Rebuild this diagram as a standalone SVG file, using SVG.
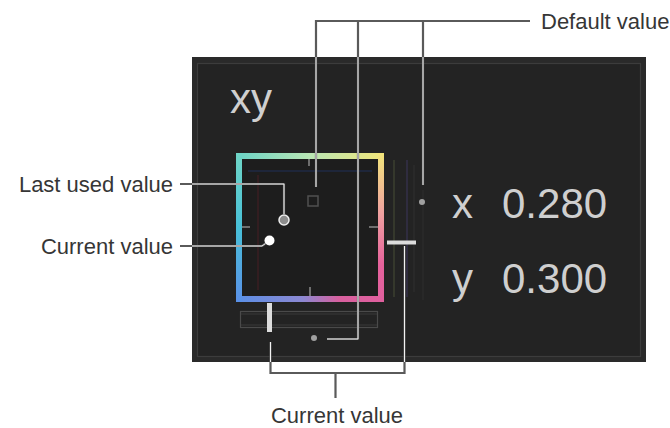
<svg xmlns="http://www.w3.org/2000/svg" width="670" height="428" viewBox="0 0 670 428">
  <style>
    .label { font-family: "Liberation Sans", Arial, sans-serif; font-size: 22px; fill: #363636; }
    .ui { font-family: "Liberation Sans", Arial, sans-serif; fill: #cfcfcf; }
    .outline { fill: none; stroke: #5a5a5a; stroke-width: 2.2; }
    .core { fill: none; stroke: #f2f2f2; stroke-width: 1; }
    .tick { stroke: #8a8a8a; stroke-width: 1.5; }
    .track { fill: none; stroke: #4a4a4a; stroke-width: 1.2; }
  </style>
  <defs>
    <linearGradient id="gTop" x1="0" y1="0" x2="1" y2="0">
      <stop offset="0" stop-color="#6ad3c6"/>
      <stop offset="0.5" stop-color="#b9e6b4"/>
      <stop offset="1" stop-color="#f2e67a"/>
    </linearGradient>
    <linearGradient id="gRight" x1="0" y1="0" x2="0" y2="1">
      <stop offset="0" stop-color="#f2e67a"/>
      <stop offset="0.4" stop-color="#f0a2a0"/>
      <stop offset="0.75" stop-color="#e6629c"/>
      <stop offset="1" stop-color="#e0609e"/>
    </linearGradient>
    <linearGradient id="gBottom" x1="0" y1="0" x2="1" y2="0">
      <stop offset="0" stop-color="#5a8fe6"/>
      <stop offset="0.45" stop-color="#8c88d2"/>
      <stop offset="0.7" stop-color="#d8609e"/>
      <stop offset="1" stop-color="#e0609e"/>
    </linearGradient>
    <linearGradient id="gLeft" x1="0" y1="0" x2="0" y2="1">
      <stop offset="0" stop-color="#70d6c6"/>
      <stop offset="0.5" stop-color="#48c0d8"/>
      <stop offset="1" stop-color="#5a90e8"/>
    </linearGradient>
    <clipPath id="panelClip">
      <rect x="192" y="57" width="454" height="305"/>
    </clipPath>
  </defs>

  <rect width="670" height="428" fill="#ffffff"/>

  <g id="panel">
    <rect x="192" y="57" width="454" height="305" fill="#2a2a2a"/>
    <rect x="197.5" y="63.5" width="443" height="293" fill="#232323" stroke="#3c3c3c" stroke-width="1.2"/>
    <text class="ui" x="230" y="113" font-size="42">xy</text>
  </g>

  <g id="pad">
    <rect x="236" y="153" width="148" height="149" fill="#1d1d1d"/>
    <line x1="248" y1="171" x2="372" y2="171" stroke="#1f2a44" stroke-width="1.5"/>
    <line x1="258" y1="175" x2="258" y2="290" stroke="#3a1e22" stroke-width="1.5"/>
    <rect x="236" y="153" width="148" height="6" fill="url(#gTop)"/>
    <rect x="378" y="153" width="6" height="149" fill="url(#gRight)"/>
    <rect x="236" y="296" width="148" height="6" fill="url(#gBottom)"/>
    <rect x="236" y="153" width="6" height="149" fill="url(#gLeft)"/>
    <line class="tick" x1="242" y1="227" x2="250" y2="227"/>
    <line class="tick" x1="369" y1="227" x2="378" y2="227"/>
    <line class="tick" x1="309" y1="159" x2="309" y2="166"/>
    <line class="tick" x1="310" y1="287" x2="310" y2="296"/>
  </g>

  <g id="default-square">
    <rect x="308" y="196" width="10" height="10" fill="none" stroke="#505050" stroke-width="1.5"/>
  </g>

  <g id="last-used-marker">
    <circle cx="284" cy="220" r="5" fill="#8c8c8c" stroke="#eeeeee" stroke-width="1.5"/>
  </g>

  <g id="current-marker">
    <circle cx="269.5" cy="240.5" r="5" fill="#ffffff"/>
  </g>

  <g id="vertical-slider">
    <line x1="394" y1="160" x2="394" y2="297" stroke="#3c4030" stroke-width="1.5"/>
    <line x1="407" y1="160" x2="407" y2="297" stroke="#34304a" stroke-width="1.5"/>
    <line x1="414" y1="165" x2="414" y2="292" stroke="#303030" stroke-width="1"/>
    <line x1="423" y1="190" x2="423" y2="300" stroke="#2e2e2e" stroke-width="1"/>
    <rect x="387" y="240.5" width="29" height="4" fill="#dcdcdc"/>
    <circle cx="422" cy="202" r="3" fill="#a0a0a0"/>
  </g>

  <g id="horizontal-slider">
    <rect class="track" x="240.5" y="311.5" width="137" height="16"/>
    <line x1="241" y1="314" x2="377" y2="314" stroke="#3a3a3a" stroke-width="1"/>
    <line x1="241" y1="325" x2="377" y2="325" stroke="#3a3a3a" stroke-width="1"/>
    <rect x="267" y="303" width="5" height="29" fill="#dcdcdc"/>
    <circle cx="314" cy="338" r="3" fill="#a0a0a0"/>
  </g>

  <g id="readout">
    <text class="ui" x="452" y="218" font-size="42">x</text>
    <text class="ui" x="502" y="218" font-size="42">0.280</text>
    <text class="ui" x="452" y="293" font-size="42">y</text>
    <text class="ui" x="502" y="293" font-size="42">0.300</text>
  </g>

  <g id="connectors">
    <g class="outline">
      <path d="M530,21 H316 V187 M358,21 V339 H327 M423,21 V185"/>
      <path d="M180,184 H284 V214"/>
      <path d="M180,246 H262 L265.5,243.5"/>
      <path d="M270.5,342 V373 H404.5 V246 M335.5,373 V398"/>
    </g>
    <g class="core" clip-path="url(#panelClip)">
      <path d="M530,21 H316 V187 M358,21 V339 H327 M423,21 V185"/>
      <path d="M180,184 H284 V214"/>
      <path d="M180,246 H262 L265.5,243.5"/>
      <path d="M270.5,342 V373 H404.5 V246 M335.5,373 V398"/>
    </g>
  </g>

  <g id="labels">
    <text class="label" x="541" y="29">Default value</text>
    <text class="label" x="173" y="191.5" text-anchor="end">Last used value</text>
    <text class="label" x="173" y="254" text-anchor="end">Current value</text>
    <text class="label" x="337" y="422.5" text-anchor="middle">Current value</text>
  </g>
</svg>
